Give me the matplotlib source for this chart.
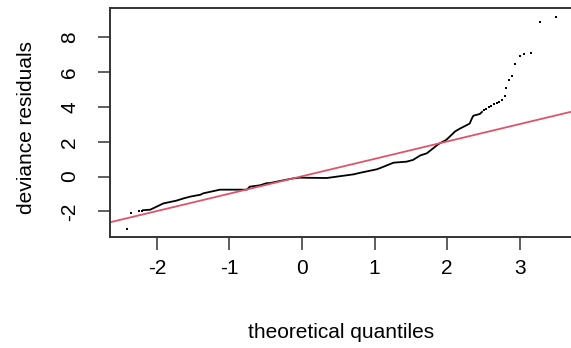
import matplotlib
matplotlib.use("Agg")
import matplotlib.pyplot as plt

plt.rcParams['font.family'] = ['Liberation Sans', 'DejaVu Sans']

# sorted deviance residuals vs normal quantiles (dense middle part)
qq_x = [-2.19, -2.09, -1.91, -1.73, -1.63, -1.54, -1.40, -1.36, -1.13, -0.76, -0.72,
        -0.58, -0.49, -0.44, -0.35, -0.12, -0.03, 0.34, 0.71, 0.80, 1.03, 1.07, 1.26,
        1.44, 1.53, 1.63, 1.72, 1.88, 1.99, 2.08, 2.11, 2.18, 2.27, 2.31, 2.34, 2.36,
        2.45, 2.48]
qq_y = [-1.93, -1.90, -1.54, -1.38, -1.25, -1.15, -1.04, -0.96, -0.75, -0.75, -0.58,
        -0.50, -0.38, -0.37, -0.29, -0.10, -0.06, -0.08, 0.13, 0.22, 0.42, 0.48, 0.80,
        0.86, 0.96, 1.22, 1.34, 1.87, 2.12, 2.48, 2.60, 2.77, 2.96, 3.05, 3.34, 3.50,
        3.60, 3.72]

# sparse tail points
tail_x = [-2.41, -2.35, -2.25, -2.21,
          2.51, 2.54, 2.58, 2.61, 2.64, 2.68, 2.71, 2.75, 2.79, 2.81, 2.85, 2.89,
          2.93, 3.00, 3.06, 3.16, 3.28, 3.50]
tail_y = [-3.01, -2.09, -2.00, -1.96,
          3.82, 3.91, 4.00, 4.08, 4.17, 4.22, 4.27, 4.40, 4.63, 5.11, 5.55, 5.80,
          6.47, 6.93, 7.03, 7.12, 8.87, 9.19]

# qqline
line_a = 0.02
line_b = 1.0

fig = plt.figure(figsize=(5.71, 3.48), dpi=100)
ax = fig.add_axes([110/571, 1 - 237/348, 464/571, 229/348])

ax.plot(qq_x, qq_y, color='black', lw=1.3, solid_joinstyle='round')
ax.plot(tail_x, tail_y, ls='none', marker='s', ms=1.6, color='black', mew=0)
ax.axline((0, line_a), slope=line_b, color='#DF536B', lw=1.3)

ax.set_xlim(-2.645, 3.747)
ax.set_ylim(-3.47, 9.69)
ax.set_xticks([-2, -1, 0, 1, 2, 3])
ax.set_yticks([-2, 0, 2, 4, 6, 8])
ax.set_xticklabels(['-2', '-1', '0', '1', '2', '3'])
ax.set_yticklabels(['-2', '0', '2', '4', '6', '8'], rotation=90, va='center')
ax.tick_params(axis='both', length=9, width=1.1, color='#333333', labelsize=15)
ax.tick_params(axis='x', pad=7)
ax.tick_params(axis='y', pad=13)
for s in ['left', 'top', 'bottom']:
    ax.spines[s].set_linewidth(1.4)
    ax.spines[s].set_color('#333333')
ax.spines['right'].set_visible(False)

fig.text(341/571, 1 - 332/348, 'theoretical quantiles', ha='center', va='center', fontsize=15)
fig.text(27/571, 1 - 127/348, 'deviance residuals', ha='center', va='center',
         rotation=90, fontsize=15)

fig.savefig('out.png', dpi=100)
